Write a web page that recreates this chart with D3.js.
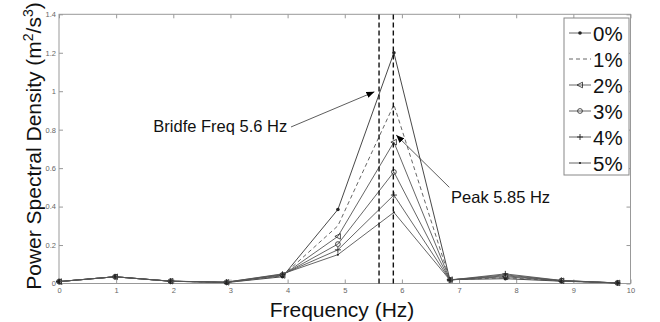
<!DOCTYPE html>
<html>
<head>
<meta charset="utf-8">
<script src="https://cdn.jsdelivr.net/npm/d3@7"></script>
<style>
  body { margin: 0; background: #fff; }
  svg { display: block; font-family: "Liberation Sans", Arial, sans-serif; }
</style>
</head>
<body>
<div id="chart"></div>
<script>
// frequency bins (Hz)
const freqs = [0, 0.98, 1.95, 2.93, 3.91, 4.88, 5.86, 6.84, 7.81, 8.79, 9.77]
const damage = ['0%', '1%', '2%', '3%', '4%', '5%']
const psd0 = [0.010, 0.035, 0.012, 0.005, 0.035, 0.385, 1.200, 0.020, 0.025, 0.012, 0.003]
const psd1 = [0.010, 0.035, 0.012, 0.005, 0.040, 0.300, 0.930, 0.020, 0.030, 0.013, 0.003]
const psd2 = [0.010, 0.035, 0.012, 0.006, 0.042, 0.245, 0.735, 0.020, 0.035, 0.014, 0.003]
const psd3 = [0.010, 0.035, 0.012, 0.006, 0.045, 0.205, 0.580, 0.018, 0.040, 0.015, 0.003]
const psd4 = [0.010, 0.035, 0.012, 0.007, 0.048, 0.175, 0.460, 0.018, 0.050, 0.016, 0.003]
const psd5 = [0.010, 0.035, 0.012, 0.007, 0.050, 0.150, 0.370, 0.018, 0.045, 0.015, 0.003]
const xTicks = [0, 1, 2, 3, 4, 5, 6, 7, 8, 9, 10]
const yTicks = [0, 0.2, 0.4, 0.6, 0.8, 1, 1.2, 1.4]
const markLines = [5.6, 5.85]
// annotation: label, text anchor [f, psd], arrow tail, arrow tip
const notes = [
  {text: 'Bridfe Freq 5.6 Hz', at: [1.65, 0.788], from: [4.06, 0.814], to: [5.52, 0.997]},
  {text: 'Peak 5.85 Hz', at: [6.86, 0.417], from: [6.83, 0.50], to: [5.90, 0.772]},
]

const series = [psd0, psd1, psd2, psd3, psd4, psd5]
const markers = ['dot', 'none', 'tri', 'circle', 'plus', 'small']
const dashes = [null, '4,3', null, null, null, null]

const W = 660, H = 322
const m = {left: 59, right: 29.5, top: 14.3, bottom: 38.5}
const x = d3.scaleLinear().domain([0, 10]).range([m.left, W - m.right])
const y = d3.scaleLinear().domain([0, 1.4]).range([H - m.bottom, m.top])

const svg = d3.select('#chart').append('svg').attr('width', W).attr('height', H)

svg.append('defs').append('marker')
  .attr('id', 'head')
  .attr('viewBox', '0 0 10 10')
  .attr('refX', 10).attr('refY', 5)
  .attr('markerWidth', 8).attr('markerHeight', 8)
  .attr('markerUnits', 'userSpaceOnUse')
  .attr('orient', 'auto')
  .append('path').attr('d', 'M0,1L10,5L0,9Z').attr('fill', '#000')

// axes, ticks inward on all four sides
const axisCol = '#999'
const styleAxis = (g, labels) => {
  g.select('.domain').remove()
  g.selectAll('line').attr('stroke', axisCol)
  g.selectAll('text').attr('fill', '#666').style('font-size', '7.5px')
  if (!labels) g.selectAll('text').remove()
}
svg.append('g').attr('transform', `translate(0,${y(0)})`)
  .call(d3.axisBottom(x).tickValues(xTicks).tickFormat(d3.format('d')).tickSizeInner(-4).tickPadding(4))
  .call(g => styleAxis(g, true))
svg.append('g').attr('transform', `translate(0,${y(1.4)})`)
  .call(d3.axisTop(x).tickValues(xTicks).tickSizeInner(-4))
  .call(g => styleAxis(g, false))
svg.append('g').attr('transform', `translate(${x(0)},0)`)
  .call(d3.axisLeft(y).tickValues(yTicks).tickFormat(d => d3.format('~g')(d)).tickSizeInner(-4).tickPadding(3))
  .call(g => styleAxis(g, true))
svg.append('g').attr('transform', `translate(${x(10)},0)`)
  .call(d3.axisRight(y).tickValues(yTicks).tickSizeInner(-4))
  .call(g => styleAxis(g, false))

svg.append('rect')
  .attr('x', x(0)).attr('y', y(1.4))
  .attr('width', x(10) - x(0)).attr('height', y(0) - y(1.4))
  .attr('fill', 'none').attr('stroke', axisCol)

const drawMarker = (g, type, cx, cy) => {
  const c = '#222'
  if (type === 'dot') {
    g.append('circle').attr('cx', cx).attr('cy', cy).attr('r', 1.8).attr('fill', c)
  } else if (type === 'small') {
    g.append('circle').attr('cx', cx).attr('cy', cy).attr('r', 1.1).attr('fill', c)
  } else if (type === 'circle') {
    g.append('circle').attr('cx', cx).attr('cy', cy).attr('r', 2.4)
      .attr('fill', 'none').attr('stroke', c).attr('stroke-width', 0.8)
  } else if (type === 'tri') {
    g.append('path').attr('d', `M${cx - 3},${cy}L${cx + 2.5},${cy - 2.8}L${cx + 2.5},${cy + 2.8}Z`)
      .attr('fill', 'none').attr('stroke', c).attr('stroke-width', 0.8)
  } else if (type === 'plus') {
    g.append('path').attr('d', `M${cx - 3},${cy}H${cx + 3}M${cx},${cy - 3}V${cy + 3}`)
      .attr('stroke', c).attr('stroke-width', 0.9)
  }
}

const line = d3.line().x((d, i) => x(freqs[i])).y(d => y(d))

series.forEach((vals, k) => {
  const g = svg.append('g')
  g.append('path')
    .attr('d', line(vals))
    .attr('fill', 'none')
    .attr('stroke', k === 0 ? '#333' : '#555')
    .attr('stroke-width', 0.9)
    .attr('stroke-dasharray', dashes[k])
  vals.forEach((v, i) => drawMarker(g, markers[k], x(freqs[i]), y(v)))
})

// bridge freq and peak lines
svg.selectAll('.vline')
  .data(markLines)
  .enter()
    .append('line')
    .attr('x1', d => x(d)).attr('x2', d => x(d))
    .attr('y1', y(0)).attr('y2', y(1.4))
    .attr('stroke', '#111')
    .attr('stroke-width', 1.4)
    .attr('stroke-dasharray', '5,3')

notes.forEach(n => {
  svg.append('line')
    .attr('x1', x(n.from[0])).attr('y1', y(n.from[1]))
    .attr('x2', x(n.to[0])).attr('y2', y(n.to[1]))
    .attr('stroke', '#333').attr('stroke-width', 0.8)
    .attr('marker-end', 'url(#head)')
  svg.append('text')
    .attr('x', x(n.at[0])).attr('y', y(n.at[1]))
    .style('font-size', '16.5px')
    .attr('fill', '#111')
    .text(n.text)
})

// legend
const lg = svg.append('g')
lg.append('rect')
  .attr('x', 564).attr('y', 18).attr('width', 65).attr('height', 157)
  .attr('fill', '#fff').attr('stroke', '#888')
damage.forEach((lab, k) => {
  const ly = 33 + k * 26
  lg.append('line')
    .attr('x1', 569).attr('x2', 591).attr('y1', ly).attr('y2', ly)
    .attr('stroke', '#555').attr('stroke-width', 0.9)
    .attr('stroke-dasharray', dashes[k])
  drawMarker(lg, markers[k], 580, ly)
  lg.append('text')
    .attr('x', 593).attr('y', ly + 7.5)
    .style('font-size', '20.5px')
    .attr('fill', '#111')
    .text(lab)
})

// axis titles
svg.append('text')
  .attr('x', 342).attr('y', 317)
  .attr('text-anchor', 'middle')
  .style('font-size', '21px')
  .attr('fill', '#111')
  .text('Frequency (Hz)')

const yt = svg.append('text')
  .attr('transform', 'translate(41,146) rotate(-90)')
  .attr('text-anchor', 'middle')
  .style('font-size', '21px')
  .attr('fill', '#111')
yt.append('tspan').text('Power Spectral Density (m')
yt.append('tspan').attr('dy', -8).style('font-size', '14px').text('2')
yt.append('tspan').attr('dy', 8).text('/s')
yt.append('tspan').attr('dy', -8).style('font-size', '14px').text('3')
yt.append('tspan').attr('dy', 8).text(')')
</script>
</body>
</html>
